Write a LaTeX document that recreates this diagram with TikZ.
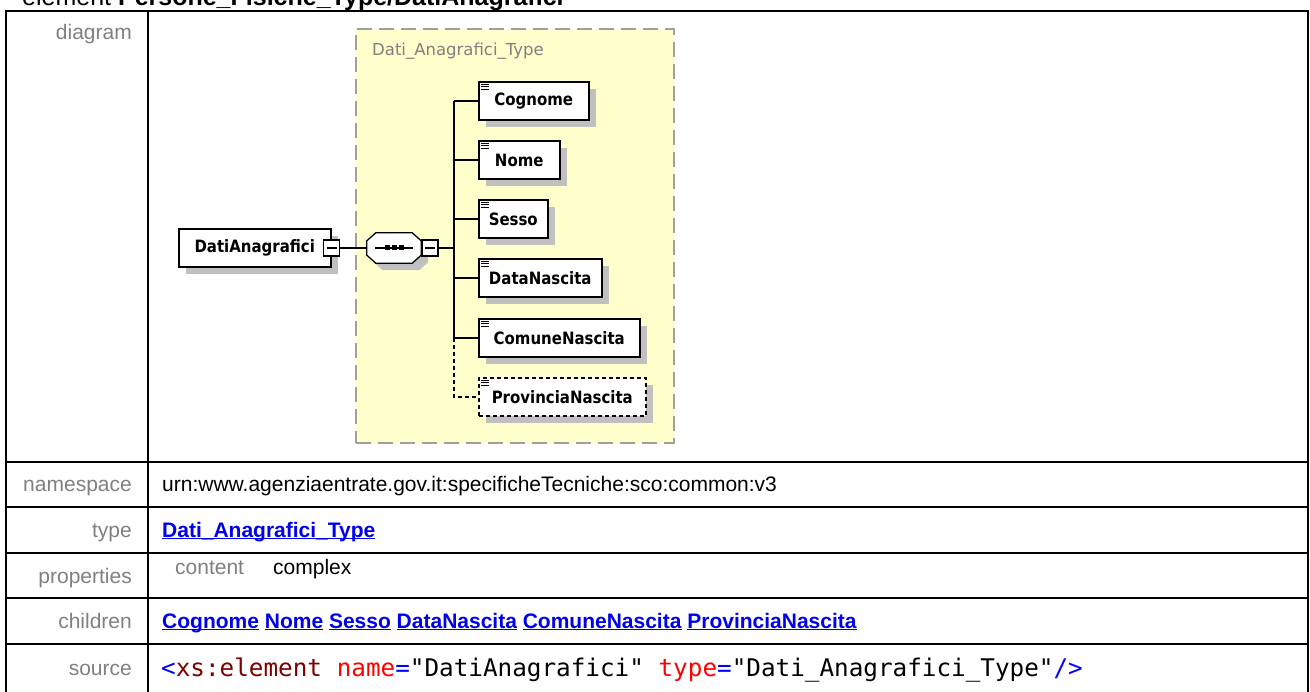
\documentclass[tikz,border=0pt]{standalone}
\usepackage{fontspec}
\setmainfont{Liberation Sans}
\newfontfamily\diafont{DejaVu Sans}[FakeStretch=0.88]
\newfontfamily\tipofont{DejaVu Sans}
\newfontfamily\codefont{DejaVu Sans Mono}
\usetikzlibrary{positioning,shadows}

\newcommand{\sotto}[1]{\underline{\smash{#1}}}

\begin{document}
\begin{tikzpicture}[x=1pt,y=-1pt,
  bordo/.style={line width=2pt, black},
  etich/.style={anchor=base east, inner sep=0pt, text=colEtich, font=\fontsize{21}{25}\selectfont},
  valore/.style={anchor=base west, inner sep=0pt, font=\fontsize{21}{25}\selectfont},
  collega/.style={valore, text=colLink, font=\fontsize{21}{25}\selectfont\bfseries},
  ombra/.style={drop shadow={shadow xshift=7pt, shadow yshift=-7pt, fill=colOmbra, opacity=1}},
  elem/.style={draw, line width=1.5pt, fill=white, minimum height=38pt, inner sep=0pt, anchor=west, font=\diafont\fontsize{17}{20}\selectfont\bfseries, ombra},
  meno/.style={draw, line width=1.5pt, fill=white, minimum size=16pt, inner sep=0pt,
    path picture={\draw[line width=1.3pt] ([xshift=3pt]path picture bounding box.west) -- ([xshift=-3pt]path picture bounding box.east);}},
  seqbox/.style={minimum width=54pt, minimum height=30pt, inner sep=0pt},
  tipobox/.style={draw=colTratto, line width=2pt, dash pattern=on 15pt off 7pt, fill=colGiallo, anchor=north west, inner sep=0pt},
  linea/.style={line width=1.5pt, black}
]

% Colori
\definecolor{colEtich}{HTML}{808080}
\definecolor{colLink}{HTML}{0000EE}
\definecolor{colOmbra}{HTML}{C0C0C0}
\definecolor{colGiallo}{HTML}{FFFFCC}
\definecolor{colTratto}{HTML}{A0A0A0}
\definecolor{colBlu}{HTML}{0000FF}
\definecolor{colBordeaux}{HTML}{800000}
\definecolor{colRosso}{HTML}{FF0000}

\useasboundingbox (0,0) rectangle (1310,692);
\fill[white] (0,0) rectangle (1310,692);

% Titolo (tagliato in alto)
\node[anchor=base west, inner sep=0pt, font=\fontsize{25}{30}\selectfont] (titolo) at (22,6)
  {element \textbf{Persone\_Fisiche\_Type/DatiAnagrafici}};

% Tabella
\draw[bordo] (6,11) rectangle (1308,705);
\draw[bordo] (148,11) -- (148,705);
\foreach \y in {462,507,553,598,644}
  \draw[bordo] (6,\y) -- (1308,\y);

% Etichette a sinistra
\node[etich] (lDiag) at (132,40) {diagram};
\node[etich] (lNs) at (132,492) {namespace};
\node[etich] (lTipo) at (132,537) {type};
\node[etich] (lProp) at (132,583) {properties};
\node[etich] (lFigli) at (132,628) {children};
\node[etich] (lSrc) at (132,675) {source};

% Valori
\node[valore] (vNs) at (162,492) {urn:www.agenziaentrate.gov.it:specificheTecniche:sco:common:v3};
\node[collega] (vTipo) at (162,537) {\sotto{Dati\_Anagrafici\_Type}};
\node[valore, text=colEtich] (vCont) at (175,574) {content};
\node[valore] (vCompl) at (273,574) {complex};
\node[collega] (vFigli) at (162,628)
  {\sotto{Cognome} \sotto{Nome} \sotto{Sesso} \sotto{DataNascita} \sotto{ComuneNascita} \sotto{ProvinciaNascita}};
\node[valore, font=\codefont\fontsize{24.3}{28}\selectfont] (vSrc) at (161,676)
  {\textcolor{colBlu}{<}\textcolor{colBordeaux}{xs:element} \textcolor{colRosso}{name}\textcolor{colBlu}{=}"DatiAnagrafici" \textcolor{colRosso}{type}\textcolor{colBlu}{=}"Dati\_Anagrafici\_Type"\textcolor{colBlu}{/>}};

% Diagramma: riquadro del tipo
\node[tipobox, minimum width=318pt, minimum height=414pt] (tipo) at (355,28) {};
\node[anchor=west, inner sep=0pt, text=colEtich, font=\tipofont\fontsize{16.5}{19}\selectfont] (tipoNome) at (372,51) {Dati\_Anagrafici\_Type};

% Elemento radice e sequenza
\node[elem, minimum width=152pt] (dati) at (178,248) {DatiAnagrafici};
\node[meno] (datiMeno) at (dati.east) {};
\node[seqbox] (seq) at (394,248) {};
\filldraw[fill=white, line width=1.3pt, ombra]
  ([xshift=9pt]seq.north west) -- ([xshift=-9pt]seq.north east) -- ([yshift=-8pt]seq.north east)
  -- ([yshift=8pt]seq.south east) -- ([xshift=-9pt]seq.south east) -- ([xshift=9pt]seq.south west)
  -- ([yshift=8pt]seq.south west) -- ([yshift=-8pt]seq.north west) -- cycle;
\node[meno] (seqMeno) at (430,248) {};
\coordinate (spine) at (454,248);

\draw[linea] (datiMeno) -- (seq);
\draw[linea] (seqMeno) -- (spine);
\draw[line width=1.3pt] ([xshift=-19pt]seq.center) -- ([xshift=19pt]seq.center);
\foreach \dx in {-7,0,7}
  \fill ([xshift=\dx pt-2.5pt,yshift=-2.5pt]seq.center) rectangle ++(5,-5);

% Figli
\foreach \id/\txt/\y/\w in {cog/Cognome/101/110, nom/Nome/160/81, ses/Sesso/219/69,
    dat/DataNascita/278/123, com/ComuneNascita/338/161}
  \node[elem, minimum width=\w pt] (\id) at (478,\y) {\txt};
\node[elem, dash pattern=on 4pt off 3pt, minimum width=167pt] (prov) at (478,397) {ProvinciaNascita};

% Collegamenti
\draw[linea] (spine |- cog.west) -- (spine |- com.west);
\foreach \id in {cog,nom,ses,dat,com}
  \draw[linea] (spine |- \id.west) -- (\id.west);
\draw[linea, dash pattern=on 4pt off 3pt] (spine |- com.west) |- (prov.west);

% Icona
\foreach \id in {cog,nom,ses,dat,com,prov}
  \foreach \k in {3,5.5,8}
    \draw[line width=0.9pt] ([xshift=2.5pt,yshift=-\k pt]\id.north west) -- ++(8,0);

\end{tikzpicture}
\end{document}
